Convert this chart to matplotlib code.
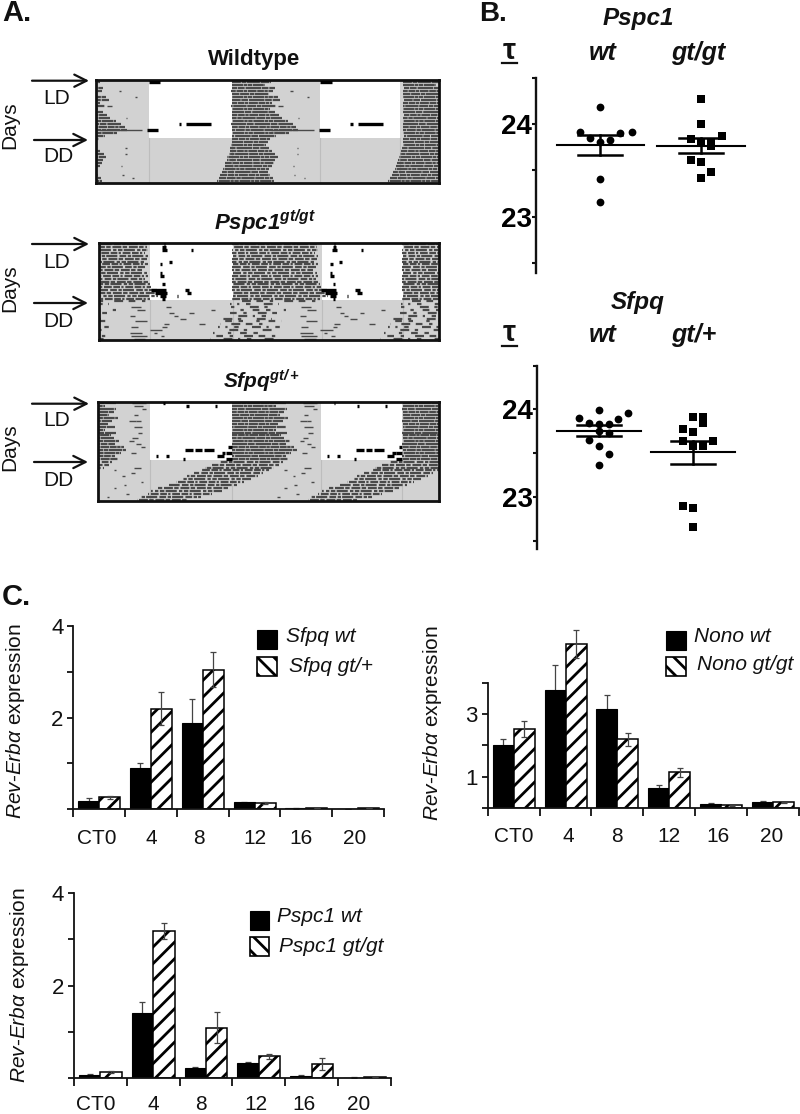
# Actograms, free running periods and Rev-Erb alpha expression

import matplotlib
matplotlib.use("Agg")
import matplotlib.pyplot as plt
from matplotlib.patches import Rectangle
import numpy as np

plt.rcParams["font.family"] = ["Liberation Sans", "DejaVu Sans"]
plt.rcParams["mathtext.fontset"] = "custom"
plt.rcParams["mathtext.rm"] = "Liberation Sans"
plt.rcParams["mathtext.it"] = "Liberation Sans:italic"
plt.rcParams["mathtext.bf"] = "Liberation Sans:bold"
plt.rcParams["mathtext.bfit"] = "Liberation Sans:italic:bold"
plt.rcParams["hatch.linewidth"] = 2.0

W = 800
H = 1114

# ==========================
# Data: actograms (hours, one entry per day row)
# ==========================

wt_on = [19.0, 19.0, 19.1, 18.9, 19.0, 19.0, 19.1, 19.0, 18.9, 19.0, 19.0, 19.1,
         19.0, 19.0, 18.9, 19.0, 19.0, 19.0, 19.1, 19.0, 19.0, 18.9, 18.8, 18.7,
         18.6, 18.4, 18.3, 18.1, 18.0, 17.8, 17.6, 17.4, 17.2, 16.9]
wt_off = [24.5, 23.6, 25.0, 24.8, 24.2, 25.4, 25.8, 24.6, 25.2, 24.3, 25.0, 25.6,
          26.0, 26.8, 27.5, 28.0, 28.3, 27.0, 25.2, 24.4, 24.0, 23.8, 24.2, 24.6,
          25.1, 25.4, 25.0, 24.9, 24.6, 24.2, 24.0, 24.3, 24.7, 24.9]
wt_dark = [(5, 5.5, 5.8), (12, 4.2, 4.4), (16, 0.5, 6.5), (22, 4.1, 4.3), (24, 4.1, 4.3),
           (28, 3.5, 3.7), (31, 3.7, 3.9), (32, 5.1, 5.3), (3, 3.2, 3.5), (8, 1.5, 2.2)]
wt_black = [(0, 7.4, 9.0), (14, 12.6, 16.1), (16, 7.2, 8.7), (14, 11.6, 11.9)]

ps_on = [18.8, 18.9, 18.8, 18.8, 18.9, 18.8, 18.8, 18.9, 18.8, 18.8, 18.9, 18.8,
         18.8, 18.8, 18.9, 18.8, 18.8, 18.8, 18.9, 18.8, 18.8, 18.6, 18.4, 18.2,
         18.0, 17.8, 17.5, 17.3, 17.1, 16.8, 16.6, 16.2, 15.9, 15.7]
ps_off = [31.0, 30.8, 31.0, 30.5, 31.0, 30.8, 30.4, 31.0, 30.6, 30.2, 30.8, 31.0,
          30.6, 31.0, 31.2, 31.4, 32.2, 32.6, 32.4, 31.2, 30.8, 25.5, 24.8, 26.4,
          25.2, 23.6, 24.4, 25.8, 24.2, 26.6, 25.0, 23.4, 26.2, 25.4]
ps_dark = [(22, 28.6, 30.0), (23, 29.4, 30.6), (25, 28.4, 29.2), (27, 29.2, 30.8), (29, 28.6, 29.6),
           (30, 31.2, 33.0), (31, 28.4, 30.2), (32, 28.6, 30.8), (33, 29.0, 30.6), (24, 34.0, 34.6),
           (26, 35.5, 36.4), (28, 33.2, 34.0), (22, 9.5, 10.2), (25, 10.6, 11.2), (29, 9.0, 9.6),
           (32, 8.8, 9.3), (28, 14.2, 15.0), (24, 12.8, 13.4), (31, 7.8, 8.2), (23, 15.8, 16.4)]
ps_black = [(1, 9.0, 9.5), (2, 8.9, 9.6), (0, 9.2, 9.4), (6, 9.9, 10.3), (7, 8.7, 9.0), (10, 8.7, 8.9),
            (11, 8.6, 9.2), (14, 9.0, 9.4), (16, 7.4, 9.5), (17, 8.0, 9.6), (18, 8.6, 9.5),
            (16, 12.2, 12.8), (17, 12.5, 13.1), (2, 13.0, 13.3), (19, 9.0, 9.4), (18, 11.0, 11.2)]

sf_on = [18.9, 18.9, 18.8, 18.9, 18.9, 18.9, 18.8, 18.9, 18.9, 18.9, 18.8, 18.9,
         18.9, 18.9, 18.8, 18.9, 18.9, 18.9, 18.8, 18.9, 17.0, 16.0, 15.0, 14.5,
         13.5, 12.5, 12.0, 11.0, 10.0, 8.5, 7.5, 7.0, 6.0, 5.5]
sf_off = [26.5, 25.0, 26.6, 26.2, 25.6, 26.8, 26.0, 25.4, 26.4, 25.0, 26.6, 25.8,
          26.2, 27.0, 26.4, 27.6, 28.0, 27.2, 26.4, 26.8, 26.0, 25.5, 24.8, 24.0,
          23.2, 22.5, 21.5, 20.5, 19.5, 18.5, 17.5, 16.0, 14.5, 12.5]
sf_dark = [(0, 28.8, 30.8), (1, 29.0, 30.4), (2, 30.2, 30.8), (4, 29.0, 29.6), (6, 29.4, 30.0), (8, 29.0, 30.2),
           (10, 29.6, 30.2), (12, 28.8, 29.6), (14, 29.4, 30.0), (15, 30.0, 30.6), (17, 28.7, 29.4),
           (22, 29.0, 30.0), (24, 28.6, 29.2), (27, 30.0, 30.4), (25, 3.4, 3.8), (28, 3.6, 4.0),
           (29, 2.2, 2.6), (31, 3.9, 4.3), (32, 1.2, 1.6), (23, 2.2, 2.6), (6, 4.4, 5.4), (13, 4.4, 5.0)]
sf_black = [(0, 9.2, 9.4), (1, 12.4, 12.8), (1, 16.4, 16.7), (16, 12.3, 13.4), (16, 13.7, 14.6),
            (16, 14.9, 16.3), (17, 18.0, 18.8), (18, 16.7, 17.7), (18, 9.6, 10.0), (19, 18.0, 18.8),
            (15, 18.3, 18.8), (18, 8.2, 8.5), (19, 12.0, 12.3), (17, 17.4, 17.9)]

# ==========================
# Data: free running period
# ==========================

pspc_wt_x = [1.0, 0.8, 1.2, 1.31, 0.9, 1.1, 1.0, 1.0, 1.0]
pspc_wt_y = [24.18, 23.917, 23.90, 23.917, 23.845, 23.827, 23.80, 23.41, 23.16]
pspc_wt_stats = [23.773, 23.88, 23.67]

pspc_gt_x = [2, 2, 2.205, 1.9, 2, 2.1, 2.1, 1.9, 2, 2.1, 2]
pspc_gt_y = [24.27, 24.0, 23.874, 23.84, 23.80, 23.80, 23.76, 23.61, 23.59, 23.48, 23.42]
pspc_gt_stats = [23.763, 23.85, 23.69]

sfpq_wt_x = [1, 1.314, 0.789, 1.208, 0.894, 1, 1.106, 1, 1.106, 0.894, 1, 1.106, 1]
sfpq_wt_y = [23.99, 23.96, 23.90, 23.885, 23.84, 23.836, 23.836, 23.75, 23.725, 23.65, 23.58, 23.49, 23.36]
sfpq_wt_stats = [23.756, 23.817, 23.695]

sfpq_gt_x = [2, 2.102, 2.102, 1.894, 2, 1.894, 2.208, 2, 2.102, 1.894, 2, 2]
sfpq_gt_y = [23.908, 23.908, 23.84, 23.775, 23.744, 23.64, 23.64, 23.58, 23.58, 22.90, 22.87, 22.66]
sfpq_gt_stats = [23.507, 23.633, 23.38]

# ==========================
# Data: expression bars
# ==========================

times = ["CT0", "4", "8", "12", "16", "20"]

sfpq_wt = [0.19, 0.91, 1.89, 0.15, 0.02, 0.01]
sfpq_wt_err = [0.05, 0.09, 0.52, 0.01, 0.01, 0.0]
sfpq_gt = [0.26, 2.19, 3.05, 0.14, 0.03, 0.02]
sfpq_gt_err = [0.04, 0.36, 0.39, 0.02, 0.0, 0.0]

nono_wt = [2.01, 3.755, 3.15, 0.65, 0.14, 0.20]
nono_wt_err = [0.18, 0.80, 0.45, 0.095, 0.01, 0.02]
nono_gt = [2.52, 5.23, 2.19, 1.14, 0.085, 0.18]
nono_gt_err = [0.25, 0.45, 0.21, 0.15, 0.015, 0.01]

pspc_wt = [0.07, 1.40, 0.22, 0.33, 0.05, 0.015]
pspc_wt_err = [0.02, 0.25, 0.02, 0.02, 0.02, 0.005]
pspc_gt = [0.14, 3.18, 1.09, 0.47, 0.30, 0.03]
pspc_gt_err = [0.025, 0.17, 0.33, 0.05, 0.13, 0.0]

# ==========================
# Figure helpers
# ==========================

fig = plt.figure(figsize=(W / 100, H / 100), dpi=100, facecolor="white")

page = fig.add_axes([0, 0, 1, 1], zorder=5)
page.set_xlim(0, W)
page.set_ylim(H, 0)
page.axis("off")


def px_axes(left, top, right, bottom):
    return fig.add_axes([left / W, 1 - bottom / H, (right - left) / W, (bottom - top) / H])


def label(x, y, s, size=15, weight="normal", style="normal", ha="center", rotation=0):
    page.text(x, y, s, fontsize=size, fontweight=weight, fontstyle=style,
              ha=ha, va="center", rotation=rotation, color="#111111")


def arrow(x0, x1, y):
    page.annotate("", xy=(x1, y), xytext=(x0, y),
                  arrowprops=dict(arrowstyle="->", lw=1.6, color="#111111",
                                  mutation_scale=22, shrinkA=0, shrinkB=0))


# ==========================
# A. Actograms
# ==========================

dense_dash = [(4, 0.3, 2, 0.25, 6, 0.3), (2, 0.3, 5, 0.25, 1.5, 0.25), (7, 0.3, 3, 0.4), (3, 0.25, 1.5, 0.3, 4, 0.3)]
medium_dash = [(3, 0.7, 1.5, 0.5, 5, 1.0), (2, 0.8, 4, 0.6), (5, 1.0, 1.5, 0.7, 2, 0.6), (3, 0.6, 1, 0.8, 3.5, 0.7)]
sparse_dash = [(3, 3, 1.5, 5, 4, 2.5), (2, 6, 4, 2.5, 1, 3), (4, 2.5, 1.5, 7), (1.5, 4, 3, 3, 2, 6)]


def actogram(box, light, ld_rows, on, off, dark, black, ld_dash, dd_dash):
    ax = px_axes(*box)
    n_rows = len(on)
    ax.set_xlim(0, 48)
    ax.set_ylim(n_rows, 0)
    ax.set_facecolor("#d2d2d2")
    ax.set_xticks([])
    ax.set_yticks([])
    for spine in ax.spines.values():
        spine.set_linewidth(2.0)
        spine.set_color("#111111")
    for start, end in light:
        ax.fill_betweenx([0, ld_rows], start, end, color="white", lw=0, zorder=1)
        ax.plot([start, start], [ld_rows, n_rows], color="#bdbdbd", lw=0.8, zorder=1)
        ax.plot([end, end], [ld_rows, n_rows], color="#bdbdbd", lw=0.8, zorder=1)
    for row in range(n_rows):
        dashes = ld_dash if row < ld_rows else dd_dash
        pattern = dashes[row % len(dashes)]
        for shift in (-24, 0, 24):
            ax.plot([on[row] + shift, off[row] + shift], [row + 0.5, row + 0.5],
                    color="#4a4a4a", lw=1.6, linestyle=(row * 2.3, pattern),
                    dash_capstyle="butt", zorder=2)
    for row, start, end in dark:
        for shift in (-24, 0, 24):
            ax.plot([start + shift, end + shift], [row + 0.5, row + 0.5],
                    color="#4a4a4a", lw=1.0, solid_capstyle="butt", zorder=2)
    for row, start, end in black:
        for shift in (0, 24):
            ax.plot([start + shift, end + shift], [row + 0.5, row + 0.5],
                    color="black", lw=2.4, solid_capstyle="butt", zorder=3)
    return ax


actogram((96, 80, 439, 183), [(7.4, 19.0), (31.3, 42.6)], 19, wt_on, wt_off,
         wt_dark, wt_black, dense_dash, dense_dash)
actogram((98.5, 243, 439, 340), [(7.2, 18.9), (31.5, 42.9)], 20, ps_on, ps_off,
         ps_dark, ps_black, medium_dash, sparse_dash)
actogram((98, 402, 439, 501), [(7.3, 18.9), (31.4, 42.8)], 20, sf_on, sf_off,
         sf_dark, sf_black, dense_dash, medium_dash)

label(2, 13, "A.", size=21, weight="bold", ha="left")
label(254, 59, "Wildtype", size=16, weight="bold")
label(265, 223, r"$\mathbfit{Pspc1}^{\mathbfit{gt/gt}}$", size=16)
label(262, 381, r"$\mathbfit{Sfpq}^{\mathbfit{gt/+}}$", size=15)

arrow_rows = [(80.7, 140, 98, 157, 125), (244, 303, 262, 321.5, 288), (403.7, 462, 421, 480.5, 447)]
for y_ld, y_dd, y_ld_text, y_dd_text, y_days in arrow_rows:
    arrow(32, 89, y_ld)
    arrow(34, 88, y_dd)
    label(57, y_ld_text, "LD")
    label(58.5, y_dd_text, "DD")
    label(10, y_days, "Days", rotation=90)

# ==========================
# B. Free running period
# ==========================


def period_panel(box, xlim, ymin, points_wt, points_gt, stats, half_mean, half_cap):
    ax = px_axes(*box)
    ax.set_xlim(*xlim)
    ax.set_ylim(ymin, 24.5)
    ax.patch.set_alpha(0)
    for side in ("top", "right", "bottom"):
        ax.spines[side].set_visible(False)
    ax.spines["left"].set_linewidth(1.7)
    ax.spines["left"].set_color("#111111")
    ax.set_xticks([])
    ax.set_yticks([23, 24], ["23", "24"], fontsize=20, fontweight="bold")
    ax.set_yticks([22.5, 23.5, 24.5], minor=True)
    ax.tick_params(axis="y", which="both", length=3, width=1.5, pad=0, color="#111111")
    ax.plot(points_wt[0], points_wt[1], "o", color="black", ms=5.6, mew=0)
    ax.plot(points_gt[0], points_gt[1], "s", color="black", ms=5.4, mew=0)
    for center, (mean, upper, lower) in zip((1, 2), stats):
        ax.plot([center - half_mean, center + half_mean], [mean, mean], color="black", lw=1.5)
        ax.plot([center, center], [lower, upper], color="black", lw=1.8)
        for cap in (upper, lower):
            ax.plot([center - half_cap, center + half_cap], [cap, cap], color="black", lw=1.8)


period_panel((535.7, 77.7, 790, 273), (0.358, 2.884), 22.39, (pspc_wt_x, pspc_wt_y), (pspc_gt_x, pspc_gt_y),
             (pspc_wt_stats, pspc_gt_stats), 0.434, 0.22)
period_panel((536.7, 365.5, 790, 549.3), (0.345, 3.02), 22.40, (sfpq_wt_x, sfpq_wt_y), (sfpq_gt_x, sfpq_gt_y),
             (sfpq_wt_stats, sfpq_gt_stats), 0.444, 0.233)

label(479, 14, "B.", size=20, weight="bold", ha="left")
label(638, 18, "Pspc1", size=17.5, weight="bold", style="italic")
label(602.7, 53, "wt", size=18, weight="bold", style="italic")
label(698, 53, "gt/gt", size=18, weight="bold", style="italic")
label(509.5, 51, "τ", size=21, weight="bold")
page.plot([502, 517], [62.7, 62.7], color="#111111", lw=1.6)

label(638, 302, "Sfpq", size=17.5, weight="bold", style="italic")
label(602.7, 335, "wt", size=18, weight="bold", style="italic")
label(694, 335, "gt/+", size=18, weight="bold", style="italic")
label(509.5, 333, "τ", size=21, weight="bold")
page.plot([502, 517], [345.7, 345.7], color="#111111", lw=1.6)

# ==========================
# C. Expression bars
# ==========================

bar_width = 0.405


def expression_panel(box, ymax, spine_top, major, labelled, wt, wt_err, gt, gt_err, label_pos, pad=14):
    ax = px_axes(*box)
    x = np.arange(len(times))
    ax.bar(x - bar_width / 2, wt, bar_width, color="black", edgecolor="black", linewidth=0.8, zorder=2)
    ax.bar(x + bar_width / 2, gt, bar_width, facecolor="white", edgecolor="black",
           hatch="//", linewidth=1.1, zorder=2)
    ax.errorbar(x - bar_width / 2, wt, yerr=wt_err, fmt="none", ecolor="#444444", elinewidth=0.9,
                capsize=2.5, capthick=0.9, zorder=1)
    ax.errorbar(x + bar_width / 2, gt, yerr=gt_err, fmt="none", ecolor="#444444", elinewidth=0.9,
                capsize=2.5, capthick=0.9, zorder=3)
    ax.set_xlim(-0.5, 5.5)
    ax.set_ylim(0, ymax)
    ax.patch.set_alpha(0)
    for side in ("top", "right"):
        ax.spines[side].set_visible(False)
    ax.spines["left"].set_bounds(0, spine_top)
    for side in ("left", "bottom"):
        ax.spines[side].set_linewidth(1.3)
        ax.spines[side].set_color("#111111")
    ax.set_yticks(major)
    ax.set_yticklabels([str(v) if v in labelled else "" for v in major], fontsize=16, color="#111111")
    ax.tick_params(axis="y", length=4, width=1.3, pad=3, color="#111111")
    ax.set_xticks(np.arange(-0.5, 6, 1))
    ax.tick_params(axis="x", which="major", length=6, width=1.3, labelbottom=False, color="#111111")
    ax.set_xticks(label_pos, times, minor=True)
    ax.tick_params(axis="x", which="minor", length=0, pad=pad, labelsize=15, labelcolor="#111111")
    return ax


expression_panel((73.3, 626, 384, 809.3), 4, 4, [0, 1, 2, 3, 4], [2, 4],
                 sfpq_wt, sfpq_wt_err, sfpq_gt, sfpq_gt_err, [-0.05, 1.0, 1.93, 3.0, 3.9, 4.93])
expression_panel((487.7, 620, 799, 808), 6, 4, [0, 1, 2, 3, 4], [1, 3],
                 nono_wt, nono_wt_err, nono_gt, nono_gt_err, [0.0, 1.05, 2.0, 3.0, 3.93, 4.97])
expression_panel((74, 892.7, 390.7, 1078.3), 4, 4, [0, 1, 2, 3, 4], [2, 4],
                 pspc_wt, pspc_wt_err, pspc_gt, pspc_gt_err, [-0.08, 1.0, 1.9, 2.95, 3.85, 4.9], pad=12)

label(2, 597, "C.", size=21, weight="bold", ha="left")

axis_title = r"$\mathit{Rev}$-$\mathit{Erb\alpha}$ expression"
label(16, 721, axis_title, rotation=90)
label(433, 723, axis_title, rotation=90)
label(20, 985, axis_title, rotation=90)

legend_rows = [
    (257, 630, 657, 286, 637, "Sfpq wt", 289, 666, "Sfpq gt/+"),
    (666, 631, 657, 694, 637, "Nono wt", 697, 665, "Nono gt/gt"),
    (249.5, 911, 937, 277, 917, "Pspc1 wt", 279, 946, "Pspc1 gt/gt"),
]
for x_box, y_wt, y_gt, x_wt, y_wt_text, name_wt, x_gt, y_gt_text, name_gt in legend_rows:
    page.add_patch(Rectangle((x_box, y_wt), 19.5, 19, facecolor="black", edgecolor="black", lw=0.8))
    page.add_patch(Rectangle((x_box, y_gt), 19.5, 19, facecolor="white", edgecolor="black",
                             hatch="\\\\", lw=1.2))
    label(x_wt, y_wt_text, name_wt, style="italic", ha="left")
    label(x_gt, y_gt_text, name_gt, style="italic", ha="left")

fig.savefig("out.png", dpi=100, facecolor="white")
